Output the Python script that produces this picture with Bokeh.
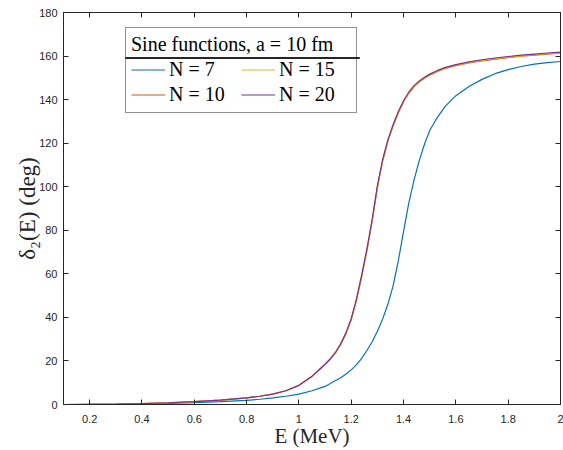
from bokeh.plotting import figure
from bokeh.models import (LinearAxis, Legend, LegendItem, FixedTicker, Range1d,
                          BoxAnnotation, CustomJSTickFormatter)
from bokeh.embed import file_html
from bokeh.resources import INLINE

# ---- data ----
energy = [0.10, 0.20, 0.30, 0.40, 0.50, 0.60, 0.70, 0.80, 0.85, 0.90, 0.95,
          1.00, 1.05, 1.10, 1.12, 1.14, 1.16, 1.18, 1.20, 1.22, 1.24, 1.26, 1.28, 1.30,
          1.32, 1.34, 1.36, 1.38, 1.40, 1.42, 1.44, 1.46, 1.48, 1.50,
          1.53, 1.56, 1.60, 1.65, 1.70, 1.75, 1.80, 1.85, 1.90, 1.95, 2.00]

delta_n7 = [0.0, 0.03, 0.1, 0.25, 0.5, 0.85, 1.3, 1.9, 2.4, 3.0, 3.8,
            4.8, 6.3, 8.3, 9.6, 11.0, 12.3, 14.0, 15.9, 18.3, 21.2, 24.8, 28.8, 33.6,
            39.2, 46.0, 54.5, 66.0, 79.5, 92.5, 103.0, 112.0, 119.5, 125.8,
            132.0, 137.0, 141.8, 146.0, 149.3, 151.9, 153.8, 155.2, 156.3, 157.0, 157.5]

delta_n10 = [0.0, 0.05, 0.15, 0.4, 0.8, 1.3, 2.0, 3.0, 3.8, 4.8, 6.3,
             8.7, 12.9, 18.3, 20.8, 23.7, 27.6, 32.5, 38.9, 47.8, 58.7, 70.7, 84.1, 99.6,
             111.7, 120.8, 127.9, 133.9, 139.0, 142.9, 145.9, 148.1, 149.8, 151.2,
             152.9, 154.3, 155.6, 156.8, 157.8, 158.6, 159.3, 159.9, 160.4, 160.9, 161.3]

delta_n15 = [0.0, 0.05, 0.15, 0.4, 0.8, 1.3, 2.0, 3.0, 3.8, 4.8, 6.3,
             8.7, 12.9, 18.4, 20.9, 23.8, 27.8, 32.7, 39.2, 48.1, 59.1, 71.1, 84.6, 100.0,
             112.1, 121.1, 128.2, 134.2, 139.2, 143.1, 146.1, 148.3, 150.0, 151.4,
             153.1, 154.5, 155.8, 157.0, 158.0, 158.8, 159.5, 160.1, 160.6, 161.1, 161.5]

delta_n20 = [0.0, 0.05, 0.15, 0.4, 0.8, 1.3, 2.0, 3.0, 3.8, 4.8, 6.3,
             8.8, 13.0, 18.5, 21.0, 24.0, 28.0, 33.0, 39.5, 48.5, 59.5, 71.5, 85.0, 100.5,
             112.5, 121.5, 128.5, 134.5, 139.5, 143.4, 146.4, 148.6, 150.3, 151.7,
             153.4, 154.8, 156.1, 157.3, 158.3, 159.1, 159.8, 160.4, 160.9, 161.4, 161.8]

series_labels = ["N = 7", "N = 10", "N = 15", "N = 20"]
series_colors = ["#0072BD", "#D95319", "#EDB120", "#7E2F8E"]

x_ticks = [0.2, 0.4, 0.6, 0.8, 1.0, 1.2, 1.4, 1.6, 1.8, 2.0]
x_tick_labels = ["0.2", "0.4", "0.6", "0.8", "1", "1.2", "1.4", "1.6", "1.8", "2"]
y_ticks = [0, 20, 40, 60, 80, 100, 120, 140, 160, 180]
y_tick_labels = ["0", "20", "40", "60", "80", "100", "120", "140", "160", "180"]

legend_title = "Sine functions, a = 10 fm"
x_label = "E (MeV)"
y_label = "δ₂(E) (deg)"

# ---- figure ----
AX = "#262626"
p = figure(width=563, height=450, output_backend="svg", toolbar_location=None,
           x_range=Range1d(0.1, 2.0), y_range=Range1d(0, 180),
           min_border_left=63, min_border_right=3, min_border_top=12,
           min_border_bottom=46)
p.background_fill_color = "white"
p.border_fill_color = "white"
p.outline_line_color = AX
p.outline_line_width = 1
p.xgrid.visible = False
p.ygrid.visible = False

def style_axis(ax, ticks, labels=None, show_labels=True):
    ax.ticker = FixedTicker(ticks=ticks)
    ax.major_tick_in = 5
    ax.major_tick_out = 0
    ax.minor_tick_in = 0
    ax.minor_tick_out = 0
    ax.axis_line_color = AX
    ax.major_tick_line_color = AX
    if show_labels:
        ax.major_label_overrides = {t: l for t, l in zip(ticks, labels)}
        ax.major_label_text_font = "Liberation Sans"
        ax.major_label_text_font_size = "11px"
        ax.major_label_text_color = AX
    else:
        ax.formatter = CustomJSTickFormatter(code="return ''")
        ax.major_label_standoff = 0
        ax.major_label_text_font_size = "1px"

style_axis(p.xaxis[0], x_ticks, x_tick_labels)
style_axis(p.yaxis[0], y_ticks, y_tick_labels)
p.xaxis[0].major_label_standoff = 10
p.yaxis[0].major_label_standoff = 6

p.xaxis.axis_label = x_label
p.yaxis.axis_label = y_label
for ax in (p.xaxis[0], p.yaxis[0]):
    ax.axis_label_text_font = "Liberation Serif"
    ax.axis_label_text_font_size = "23px"
    ax.axis_label_text_font_style = "normal"
    ax.axis_label_text_color = AX
p.xaxis[0].axis_label_text_font_size = "21px"
p.xaxis[0].axis_label_standoff = -2
p.yaxis[0].axis_label_standoff = -4

right_ax = LinearAxis()
style_axis(right_ax, y_ticks, show_labels=False)
p.add_layout(right_ax, "right")
top_ax = LinearAxis()
style_axis(top_ax, x_ticks, show_labels=False)
p.add_layout(top_ax, "above")

# ---- lines ----
renderers = []
for ys, c in zip([delta_n7, delta_n10, delta_n15, delta_n20], series_colors):
    r = p.line(energy, ys, line_color=c, line_width=1.2)
    renderers.append(r)

items = [LegendItem(label=l, renderers=[r]) for l, r in zip(series_labels, renderers)]
legend = Legend(items=items, title=legend_title, ncols=2, location=(62, 291))
legend.title_text_font = "Liberation Serif"
legend.title_text_font_size = "20px"
legend.title_text_font_style = "normal"
legend.title_text_color = "black"
legend.title_standoff = 1
legend.label_text_font = "Liberation Serif"
legend.label_text_font_size = "20px"
legend.label_text_color = "black"
legend.glyph_width = 34
legend.label_standoff = 4
legend.label_width = 72
legend.label_height = 25
legend.glyph_height = 25
legend.spacing = 0
legend.padding = 5
legend.margin = 0
legend.border_line_color = AX
legend.border_line_width = 1
legend.background_fill_color = "white"
legend.background_fill_alpha = 0
p.add_layout(legend)

sep = BoxAnnotation(left=125, right=359, top=57, bottom=58,
                    left_units="canvas", right_units="canvas",
                    top_units="canvas", bottom_units="canvas",
                    fill_color=AX, fill_alpha=1, line_color=AX, line_alpha=1,
                    line_width=1, level="overlay")
p.add_layout(sep)

open("out.html", "w").write(file_html(p, INLINE))
